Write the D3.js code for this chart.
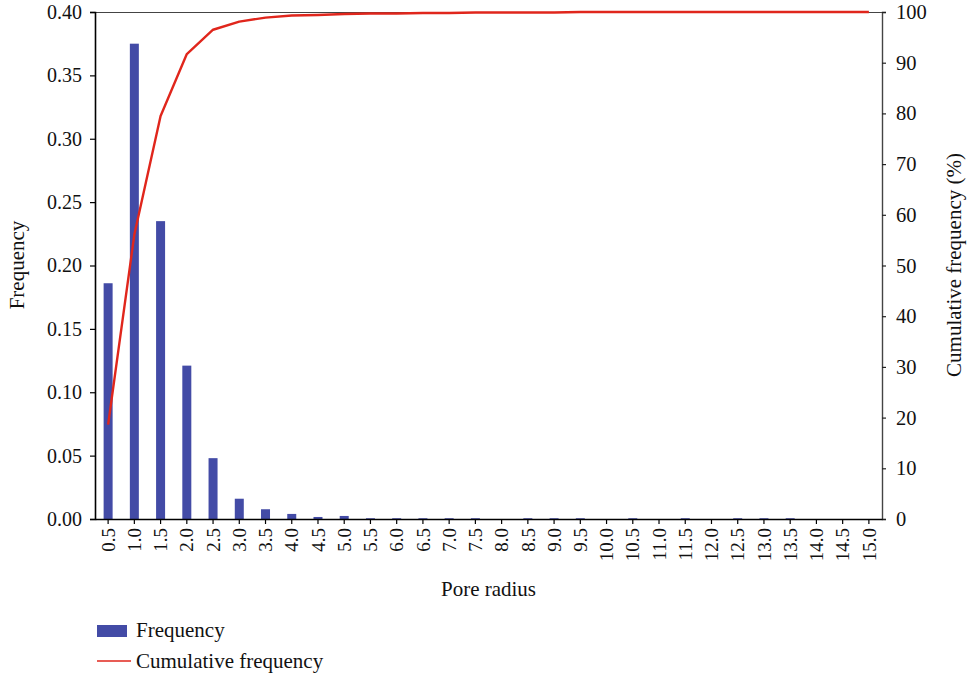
<!DOCTYPE html>
<html><head><meta charset="utf-8">
<script src="https://cdn.jsdelivr.net/npm/d3@7"></script>
<style>body{margin:0;background:#fff}text{font-family:"Liberation Serif","Times New Roman",serif;fill:#111}</style>
</head><body><svg id="c" width="967" height="674"></svg>
<script>
const categories = ["0.5","1.0","1.5","2.0","2.5","3.0","3.5","4.0","4.5","5.0","5.5","6.0","6.5","7.0","7.5","8.0","8.5","9.0","9.5","10.0","10.5","11.0","11.5","12.0","12.5","13.0","13.5","14.0","14.5","15.0"];
const frequency = [0.186,0.375,0.235,0.121,0.048,0.016,0.0077,0.004,0.0016,0.0024,0.0006,0.0006,0.0006,0.0006,0.0006,0,0.0006,0.0006,0.0006,0,0.0006,0,0.0006,0,0.0006,0.0006,0.0006,0,0,0];
const cumulative = [18.6,56.1,79.5,91.7,96.5,98.1,98.9,99.3,99.4,99.6,99.7,99.7,99.8,99.8,99.9,99.9,99.9,99.9,100,100,100,100,100,100,100,100,100,100,100,100];
const leftTicks = [0,0.05,0.10,0.15,0.20,0.25,0.30,0.35,0.40];
const rightTicks = [0,10,20,30,40,50,60,70,80,90,100];

const svg = d3.select("#c");
const L=95, R=882, T=12, B=519;
const x = d3.scaleBand().domain(categories).range([L,R]).padding(0);
const y = d3.scaleLinear().domain([0,0.40]).range([B,T]);
const y2 = d3.scaleLinear().domain([0,100]).range([B,T]);
const bw = 9;

// top border
svg.append("line").attr("x1",L).attr("x2",R).attr("y1",T+0.5).attr("y2",T+0.5).attr("stroke","#444").attr("stroke-width",1.2);

// bars
svg.append("g").selectAll("rect").data(frequency).join("rect")
  .attr("x",(d,i)=>x(categories[i])+x.bandwidth()/2-bw/2)
  .attr("y",d=>y(d)).attr("width",bw).attr("height",d=>B-y(d))
  .attr("fill","#434ba6");

// line
const line = d3.line().x((d,i)=>x(categories[i])+x.bandwidth()/2).y(d=>y2(d));
svg.append("path").datum(cumulative).attr("d",line).attr("fill","none").attr("stroke","#e0261c").attr("stroke-width",2.4).attr("stroke-linejoin","round");

// left axis
const gl = svg.append("g").attr("transform",`translate(${L},0)`)
  .call(d3.axisLeft(y).tickValues(leftTicks).tickFormat(d3.format(".2f")).tickSize(5).tickPadding(8));
gl.select(".domain").attr("stroke","#000").attr("stroke-width",1.6);
gl.selectAll(".tick line").attr("stroke","#000").attr("stroke-width",1.2);
gl.selectAll("text").style("font-size","20px").attr("fill","#111");

// right axis
const gr = svg.append("g").attr("transform",`translate(${R},0)`)
  .call(d3.axisRight(y2).tickValues(rightTicks).tickFormat(d3.format("d")).tickSize(4).tickPadding(10));
gr.select(".domain").attr("stroke","#444").attr("stroke-width",1.4);
gr.selectAll(".tick line").attr("stroke","#222").attr("stroke-width",1.2);
gr.selectAll("text").style("font-size","20.5px").attr("fill","#111");

// bottom axis
const gb = svg.append("g").attr("transform",`translate(0,${B})`)
  .call(d3.axisBottom(x).tickSize(5).tickSizeOuter(0));
gb.select(".domain").attr("stroke","#000").attr("stroke-width",1.6);
gb.selectAll(".tick line").attr("stroke","#000").attr("stroke-width",1.2);
gb.selectAll("text").style("font-size","19px").attr("fill","#111")
  .attr("transform","rotate(-90)").attr("text-anchor","end").attr("x",-9).attr("y",0).attr("dy","0.35em");

// axis titles
svg.append("text").attr("transform","translate(24,265) rotate(-90)").attr("text-anchor","middle").style("font-size","21px").text("Frequency");
svg.append("text").attr("transform","translate(961,265) rotate(-90)").attr("text-anchor","middle").style("font-size","21px").text("Cumulative frequency (%)");
svg.append("text").attr("x",(L+R)/2).attr("y",596).attr("text-anchor","middle").style("font-size","21px").text("Pore radius");

// legend
svg.append("rect").attr("x",97).attr("y",625).attr("width",30).attr("height",12).attr("fill","#434ba6");
svg.append("text").attr("x",136).attr("y",637).style("font-size","21px").text("Frequency");
svg.append("line").attr("x1",97).attr("x2",131).attr("y1",661).attr("y2",661).attr("stroke","#e0261c").attr("stroke-width",1.5);
svg.append("text").attr("x",136).attr("y",668).style("font-size","21px").text("Cumulative frequency");
</script></body></html>
